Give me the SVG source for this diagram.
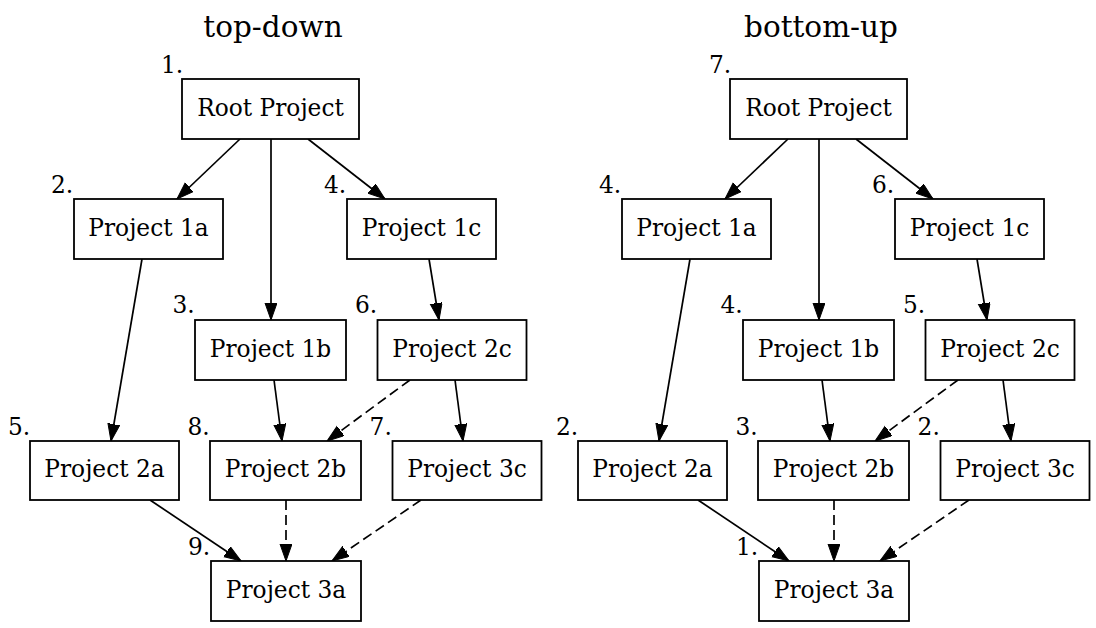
<svg xmlns="http://www.w3.org/2000/svg" width="1096" height="628" viewBox="0 0 1096 628">
<style>
  text { font-family: "DejaVu Serif", "Liberation Serif", serif; fill: #000; }
  .title { font-size: 29.5px; text-anchor: middle; }
  .lbl { font-size: 23.3px; text-anchor: middle; }
  .num { font-size: 23.3px; }
  .box { fill: #fff; stroke: #000; stroke-width: 1.8; }
  .e { stroke: #000; stroke-width: 1.7; fill: none; marker-end: url(#arr); }
  .d { stroke-dasharray: 10,5; }
</style>
<defs>
  <marker id="arr" markerUnits="userSpaceOnUse" markerWidth="18" markerHeight="13" refX="17" refY="6" orient="auto">
    <path d="M0,0 L17,6 L0,12 z" fill="#000" stroke="#000" stroke-width="1"/>
  </marker>
</defs>
<rect width="1096" height="628" fill="#fff"/>

<g id="td">
  <text class="title" x="273" y="37">top-down</text>
  <g id="td-connectors">
    <line class="e" x1="240" y1="139" x2="177" y2="199"/>
    <line class="e" x1="271" y1="139" x2="271" y2="320"/>
    <line class="e" x1="308" y1="139" x2="385" y2="199"/>
    <line class="e" x1="142" y1="259" x2="111" y2="441"/>
    <line class="e" x1="429" y1="259" x2="439" y2="320"/>
    <line class="e" x1="274" y1="380" x2="282" y2="441"/>
    <line class="e d" x1="410" y1="380" x2="327" y2="441"/>
    <line class="e" x1="455" y1="380" x2="463" y2="441"/>
    <line class="e" x1="150" y1="500" x2="241" y2="561"/>
    <line class="e d" x1="286" y1="500" x2="286" y2="561"/>
    <line class="e d" x1="421" y1="500" x2="332" y2="561"/>
  </g>
  <g id="td-root"><rect class="box" x="182" y="79" width="177" height="60"/><text class="lbl" x="270.5" y="115.7">Root Project</text><text class="num" x="161" y="73">1.</text></g>
  <g id="td-1a"><rect class="box" x="74" y="199" width="149" height="60"/><text class="lbl" x="148.5" y="235.5">Project 1a</text><text class="num" x="51" y="193">2.</text></g>
  <g id="td-1c"><rect class="box" x="347" y="199" width="149" height="60"/><text class="lbl" x="421.5" y="235.5">Project 1c</text><text class="num" x="324" y="193">4.</text></g>
  <g id="td-1b"><rect class="box" x="195" y="320" width="151" height="60"/><text class="lbl" x="270.5" y="356.5">Project 1b</text><text class="num" x="172.5" y="313">3.</text></g>
  <g id="td-2c"><rect class="box" x="377.5" y="320" width="149" height="60"/><text class="lbl" x="452" y="356.5">Project 2c</text><text class="num" x="355" y="313">6.</text></g>
  <g id="td-2a"><rect class="box" x="30" y="441" width="149" height="59"/><text class="lbl" x="104.5" y="477">Project 2a</text><text class="num" x="8" y="435">5.</text></g>
  <g id="td-2b"><rect class="box" x="210" y="441" width="151" height="59"/><text class="lbl" x="285.5" y="477">Project 2b</text><text class="num" x="187.5" y="435">8.</text></g>
  <g id="td-3c"><rect class="box" x="392.5" y="441" width="149" height="59"/><text class="lbl" x="467" y="477">Project 3c</text><text class="num" x="369.6" y="435">7.</text></g>
  <g id="td-3a"><rect class="box" x="211" y="561" width="150" height="60"/><text class="lbl" x="286" y="597.5">Project 3a</text><text class="num" x="188" y="555">9.</text></g>
</g>

<g id="bu" transform="translate(548,0)">
  <text class="title" x="273" y="37">bottom-up</text>
  <g id="bu-connectors">
    <line class="e" x1="240" y1="139" x2="177" y2="199"/>
    <line class="e" x1="271" y1="139" x2="271" y2="320"/>
    <line class="e" x1="308" y1="139" x2="385" y2="199"/>
    <line class="e" x1="142" y1="259" x2="111" y2="441"/>
    <line class="e" x1="429" y1="259" x2="439" y2="320"/>
    <line class="e" x1="274" y1="380" x2="282" y2="441"/>
    <line class="e d" x1="410" y1="380" x2="327" y2="441"/>
    <line class="e" x1="455" y1="380" x2="463" y2="441"/>
    <line class="e" x1="150" y1="500" x2="241" y2="561"/>
    <line class="e d" x1="286" y1="500" x2="286" y2="561"/>
    <line class="e d" x1="421" y1="500" x2="332" y2="561"/>
  </g>
  <g id="bu-root"><rect class="box" x="182" y="79" width="177" height="60"/><text class="lbl" x="270.5" y="115.7">Root Project</text><text class="num" x="161" y="73">7.</text></g>
  <g id="bu-1a"><rect class="box" x="74" y="199" width="149" height="60"/><text class="lbl" x="148.5" y="235.5">Project 1a</text><text class="num" x="51" y="193">4.</text></g>
  <g id="bu-1c"><rect class="box" x="347" y="199" width="149" height="60"/><text class="lbl" x="421.5" y="235.5">Project 1c</text><text class="num" x="324" y="193">6.</text></g>
  <g id="bu-1b"><rect class="box" x="195" y="320" width="151" height="60"/><text class="lbl" x="270.5" y="356.5">Project 1b</text><text class="num" x="172.5" y="313">4.</text></g>
  <g id="bu-2c"><rect class="box" x="377.5" y="320" width="149" height="60"/><text class="lbl" x="452" y="356.5">Project 2c</text><text class="num" x="355" y="313">5.</text></g>
  <g id="bu-2a"><rect class="box" x="30" y="441" width="149" height="59"/><text class="lbl" x="104.5" y="477">Project 2a</text><text class="num" x="8" y="435">2.</text></g>
  <g id="bu-2b"><rect class="box" x="210" y="441" width="151" height="59"/><text class="lbl" x="285.5" y="477">Project 2b</text><text class="num" x="187.5" y="435">3.</text></g>
  <g id="bu-3c"><rect class="box" x="392.5" y="441" width="149" height="59"/><text class="lbl" x="467" y="477">Project 3c</text><text class="num" x="369.6" y="435">2.</text></g>
  <g id="bu-3a"><rect class="box" x="211" y="561" width="150" height="60"/><text class="lbl" x="286" y="597.5">Project 3a</text><text class="num" x="188" y="555">1.</text></g>
</g>
</svg>
